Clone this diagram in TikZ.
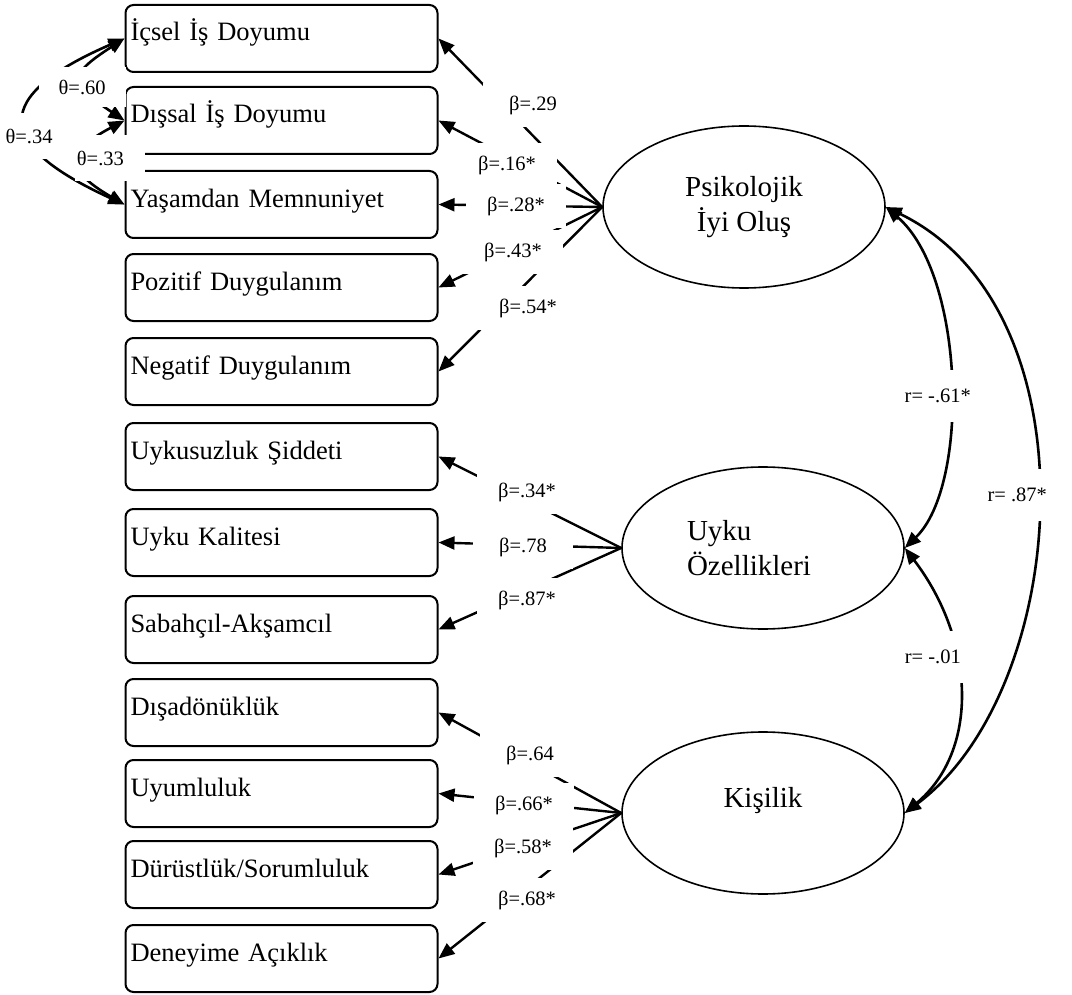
\documentclass[tikz,border=0pt]{standalone}
\usepackage{fontspec}
\setmainfont{Liberation Serif}
\usetikzlibrary{arrows.meta,shapes.geometric}

\begin{document}
\begin{tikzpicture}[x=0.5pt,y=0.5pt,
  obsbox/.style={draw,line width=1pt,rounded corners=4pt,minimum width=156pt,minimum height=33.5pt,
    text width=151pt,align=left,inner xsep=2.5pt,inner ysep=0pt,text height=18pt,text depth=15.5pt,
    font=\fontsize{13.25}{16}\selectfont},
  latent/.style={draw,ellipse,line width=0.8pt,minimum width=141pt,minimum height=81pt,inner sep=0pt,
    font=\fontsize{14.5}{17.5}\selectfont},
  load/.style={line width=1.2pt,-{Triangle[length=8pt,width=6.5pt]}},
  covar/.style={line width=1.3pt,{Triangle[length=8pt,width=6.5pt]}-{Triangle[length=8pt,width=6.5pt]}},
  coef/.style={fill=white,minimum width=50pt,minimum height=22pt,inner sep=0pt,font=\fontsize{10.25}{12}\selectfont},
  corr/.style={coef,minimum width=40pt,minimum height=26pt},
  theta/.style={fill=white,inner xsep=1pt,inner ysep=0pt,font=\fontsize{10.25}{12}\selectfont}
]

\useasboundingbox (0,0) rectangle (1072,-995);

% Draw the observed variables
\node[obsbox] (icsel) at (281.5,-38.5) {İçsel İş Doyumu};
\node[obsbox] (dissal) at (281.5,-120.5) {Dışsal İş Doyumu};
\node[obsbox] (yasam) at (281.5,-204.5) {Yaşamdan Memnuniyet};
\node[obsbox] (pozitif) at (281.5,-287.5) {Pozitif Duygulanım};
\node[obsbox] (negatif) at (281.5,-371.5) {Negatif Duygulanım};
\node[obsbox] (uykusuz) at (281.5,-456.5) {Uykusuzluk Şiddeti};
\node[obsbox] (kalite) at (281.5,-542.5) {Uyku Kalitesi};
\node[obsbox] (sabah) at (281.5,-629.5) {Sabahçıl-Akşamcıl};
\node[obsbox] (disa) at (281.5,-712.5) {Dışadönüklük};
\node[obsbox] (uyum) at (281.5,-793.5) {Uyumluluk};
\node[obsbox] (durust) at (281.5,-874.5) {Dürüstlük/Sorumluluk};
\node[obsbox] (deneyim) at (281.5,-958.5) {Deneyime Açıklık};

% Draw the latent variables
\node[latent,align=center] (psiko) at (744,-207) {Psikolojik\\İyi Oluş};
\node[latent,align=left] (uyku) at (763,-548) {Uyku\\Özellikleri\hspace*{14pt}};
\node[latent] (kisilik) at (763,-813) {\raisebox{3pt}[0pt][0pt]{Kişilik}};

% Draw the loadings
\draw[load] (psiko.west) -- (icsel.east);
\draw[load] (psiko.west) -- (dissal.east);
\draw[load] (psiko.west) -- (yasam.east);
\draw[load] (psiko.west) -- (pozitif.east);
\draw[load] (psiko.west) -- (negatif.east);
\draw[load] (uyku.west) -- (uykusuz.east);
\draw[load] (uyku.west) -- (kalite.east);
\draw[load] (uyku.west) -- (sabah.east);
\draw[load] (kisilik.west) -- (disa.east);
\draw[load] (kisilik.west) -- (uyum.east);
\draw[load] (kisilik.west) -- (durust.east);
\draw[load] (kisilik.west) -- (deneyim.east);

% Label the loadings
\node[coef] (b29) at (533,-105) {β=.29};
\node[coef] (b16) at (507,-165) {β=.16*};
\node[coef] (b28) at (516,-206) {β=.28*};
\node[coef] (b43) at (513,-252) {β=.43*};
\node[coef] (b54) at (528,-308) {β=.54*};
\node[coef] (b34) at (527,-492) {β=.34*};
\node[coef] (b78) at (523,-547) {β=.78};
\node[coef] (b87) at (527,-600) {β=.87*};
\node[coef] (b64) at (530,-755) {β=.64};
\node[coef] (b66) at (524,-805) {β=.66*};
\node[coef] (b58) at (523,-848) {β=.58*};
\node[coef] (b68) at (527,-900) {β=.68*};

% Draw the error covariances
\draw[covar] (icsel.west) .. controls (-8,-96) and (-8,-144) .. (yasam.west)
  node[theta,pos=.6,minimum width=29pt,minimum height=23pt] (t34) {θ=.34};
\draw[covar] (icsel.west) .. controls (68,-75) and (68,-83) .. (dissal.west)
  node[theta,pos=.5,yshift=-4pt,minimum width=43.5pt,minimum height=20pt] (t60) {θ=.60};
\draw[covar] (dissal.west) .. controls (65,-152) and (65,-170) .. (yasam.west)
  node[theta,pos=.5,xshift=15pt,yshift=1.5pt,text width=33pt,align=left,minimum height=23pt] (t33) {θ=.33};

% Draw the correlations
\draw[covar] (psiko.east) .. controls (965,-275) and (970,-485) .. (uyku.east)
  node[corr,pos=.54,xshift=-6pt] (r61) {r= -.61*};
\draw[covar] (psiko.east) .. controls (1099,-310) and (1070,-690) .. (kisilik.east)
  node[corr,pos=.49,xshift=-10pt] (r87) {r= .87*};
\draw[covar] (uyku.east) .. controls (975,-640) and (980,-750) .. (kisilik.east)
  node[corr,pos=.38,xshift=-11.5pt] (r01) {r= -.01};

\end{tikzpicture}
\end{document}
